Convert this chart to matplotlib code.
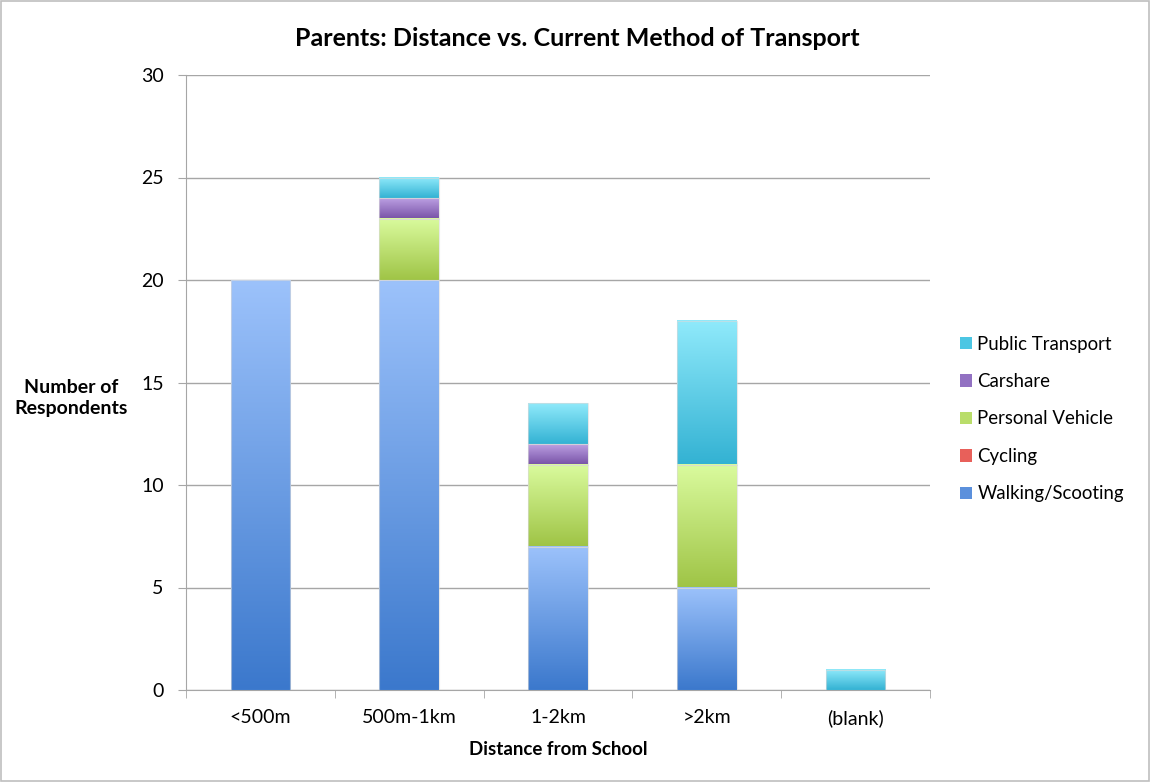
import numpy as np
import matplotlib
matplotlib.use("Agg")
import matplotlib.pyplot as plt
from matplotlib.colors import LinearSegmentedColormap
from matplotlib.patches import Patch, Rectangle

plt.rcParams['font.family'] = ['Lato', 'DejaVu Sans']

# data
categories = ["<500m", "500m-1km", "1-2km", ">2km", "(blank)"]
walking = [20, 20, 7, 5, 0]
cycling = [0, 0, 0, 0, 0]
personal_vehicle = [0, 3, 4, 6, 0]
carshare = [0, 1, 1, 0, 0]
public_transport = [0, 1, 2, 7, 1]

# name, values, gradient top colour, gradient bottom colour, legend colour
series = [
    ("Walking/Scooting", walking, "#9cc2fb", "#3b78cc", "#5b90dc"),
    ("Cycling", cycling, "#f7a09a", "#d9443e", "#e8605a"),
    ("Personal Vehicle", personal_vehicle, "#dafb9e", "#9fc446", "#b9dd6a"),
    ("Carshare", carshare, "#bfa3e6", "#7a55a8", "#9271c2"),
    ("Public Transport", public_transport, "#90eafb", "#33b2d3", "#4cc6e3"),
]

fig = plt.figure(figsize=(11.5, 7.82), dpi=100)
ax = fig.add_axes([186 / 1150, 1 - 690 / 782, 744 / 1150, 615 / 782])

x = np.arange(len(categories))
width = 0.4
bottom = np.zeros(len(categories))
grad = np.linspace(0, 1, 256).reshape(-1, 1)

# each stacked segment gets its own vertical gradient (Excel style)
for name, vals, top_c, bot_c, _ in series:
    cmap = LinearSegmentedColormap.from_list(name, [bot_c, top_c])
    for i, v in enumerate(vals):
        if v <= 0:
            continue
        x0, x1 = x[i] - width / 2, x[i] + width / 2
        y0, y1 = bottom[i], bottom[i] + v
        ax.imshow(grad, cmap=cmap, aspect='auto', origin='lower',
                  extent=(x0, x1, y0, y1), zorder=3, interpolation='bicubic')
        ax.add_patch(Rectangle((x0, y0), width, v, fill=False,
                               edgecolor=(0.85, 0.85, 0.85, 0.6), lw=0.8, zorder=4))
    bottom += np.array(vals)

ax.set_xlim(-0.5, len(categories) - 0.5)
ax.set_ylim(0, 30)
ax.set_yticks(range(0, 31, 5))
ax.grid(axis='y', color='#a6a6a6', lw=1.0, zorder=0)
ax.set_axisbelow(True)

ax.set_xticks(x)
ax.set_xticklabels(categories, fontsize=14)
ax.set_xticks(np.arange(-0.5, len(categories), 1), minor=True)
ax.tick_params(axis='x', which='major', length=0, pad=14)
ax.tick_params(axis='x', which='minor', length=6, color='#a6a6a6', direction='out')
ax.tick_params(axis='y', labelsize=14, length=6, color='#a6a6a6', pad=10)

for s in ['top', 'right']:
    ax.spines[s].set_visible(False)
for s in ['left', 'bottom']:
    ax.spines[s].set_color('#a6a6a6')

fig.text(577 / 1150, 1 - 38 / 782, "Parents: Distance vs. Current Method of Transport",
         fontsize=18, fontweight='bold', ha='center', va='center')
ax.set_xlabel("Distance from School", fontsize=13.5, fontweight='bold', labelpad=10)
fig.text(71 / 1150, 1 - 398 / 782, "Number of\nRespondents", fontsize=14,
         fontweight='bold', ha='center', va='center', linespacing=1.3)

handles = [Patch(facecolor=lc, label=name) for name, _, _, _, lc in series][::-1]
fig.legend(handles=handles, loc='center left', bbox_to_anchor=(943 / 1150, 1 - 419 / 782),
           frameon=False, fontsize=13.4, handlelength=0.65, handleheight=0.65,
           handletextpad=0.3, labelspacing=1.1)

fig.patches.append(Rectangle((0.001, 0.001), 0.998, 0.998, transform=fig.transFigure,
                             fill=False, edgecolor='#bfbfbf', lw=1.2))

fig.savefig("out.png", dpi=100)
